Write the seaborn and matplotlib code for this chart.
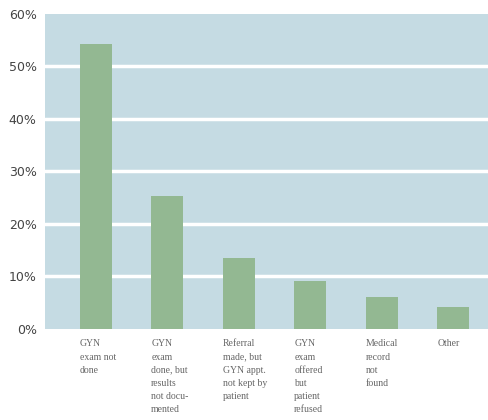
import matplotlib
matplotlib.use("Agg")
import matplotlib.pyplot as plt
import seaborn as sns
import pandas as pd

categories = ["GYN\nexam not\ndone",
              "GYN\nexam\ndone, but\nresults\nnot docu-\nmented",
              "Referral\nmade, but\nGYN appt.\nnot kept by\npatient",
              "GYN\nexam\noffered\nbut\npatient\nrefused",
              "Medical\nrecord\nnot\nfound",
              "Other"]
values = [54.2, 25.4, 13.5, 9.2, 6.1, 4.1]
yticks = [0, 10, 20, 30, 40, 50, 60]
ytick_labels = ["0%", "10%", "20%", "30%", "40%", "50%", "60%"]

df = pd.DataFrame({"cat": categories, "val": values})

sns.set_style("white")
fig = plt.figure(figsize=(4.89, 4.2), dpi=100)
ax = fig.add_axes([0.092, 0.217, 0.908, 0.75])
ax.set_facecolor("#c5dbe3")

sns.barplot(data=df, x="cat", y="val", color="#93b892", saturation=1,
            width=0.45, ax=ax, zorder=3, linewidth=0, edgecolor="none")

ax.set_ylim(0, 60)
ax.set_xlim(-0.71, 5.5)
ax.set_yticks(yticks)
ax.set_yticklabels(ytick_labels, fontsize=9, color="#444444")
for y in yticks[1:-1]:
    ax.axhline(y, color="white", lw=2.5, zorder=1)
ax.tick_params(axis="y", length=0, pad=6)
ax.tick_params(axis="x", length=0)
ax.set_xticklabels([])
ax.set_xlabel("")
ax.set_ylabel("")
for s in ax.spines.values():
    s.set_visible(False)

for i, c in enumerate(categories):
    ax.text(i - 0.225, -2.0, c, ha="left", va="top", fontsize=7,
            family="Liberation Serif", color="#666666", linespacing=1.6,
            transform=ax.transData, clip_on=False)

fig.savefig("out.png", dpi=100)
